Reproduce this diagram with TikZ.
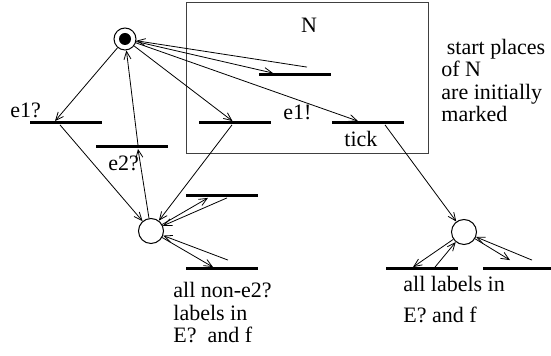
\documentclass[tikz,border=0pt]{standalone}
\usepackage{fontspec}
\setmainfont{Liberation Serif}
\usetikzlibrary{arrows.meta}

\tikzset{
  place/.style={draw,circle,line width=0.5pt,minimum size=12.5pt,inner sep=0pt},
  bar/.style={fill,minimum width=36pt,minimum height=1.5pt,inner sep=0pt},
  arc/.style={line width=0.4pt,-{Straight Barb[length=4pt,width=3.5pt]}},
}

\begin{document}
\begin{tikzpicture}[x=0.5pt,y=-0.5pt,inner sep=0pt,font=\fontsize{11pt}{11.25pt}\selectfont]
  \useasboundingbox (0,0) rectangle (551,356);
  \draw[line width=0.5pt,black!75] (186,3) rectangle (428,154); % ネット N の枠
  \node[anchor=base] (lN) at (309,33) {N};
  % プレース
  \node[place,minimum size=11pt] (pstart) at (125,39) {};
  \fill (pstart) circle (3pt); % 初期マーク
  \node[place] (pleft) at (151,231) {};
  \node[place] (pright) at (464,232) {};
  % トランジション
  \node[bar] (te1q) at (65.5,123) {};
  \node[bar] (te2q) at (131.5,147) {};
  \node[bar] (te1x) at (234.5,123) {};
  \node[bar] (tin) at (295,75) {};
  \node[bar] (ttick) at (367.5,123) {};
  \node[bar] (tl1) at (222,196) {};
  \node[bar] (tl2) at (222,269) {};
  \node[bar] (tr1) at (422,269) {};
  \node[bar,minimum width=34pt] (tr2) at (517,269) {};
  % アーク
  \draw[arc] (pstart) -- ([xshift=-5.25pt]te1q.north);
  \draw[arc] ([xshift=-2.75pt]te1q.south) -- (pleft);
  \draw[arc] (pleft) -- ([xshift=3.25pt]te2q.south);
  \draw[arc] ([xshift=3.25pt]te2q.north) -- (pstart);
  \draw[arc] (pstart) -- ([xshift=-1pt]te1x.north);
  \draw[arc] ([xshift=-1.25pt]te1x.south) -- (pleft);
  \draw[arc] (pstart) -- ([xshift=-11pt]tin.north);
  \draw[arc] ([xshift=6pt,yshift=3pt]tin.north) -- (pstart);
  \draw[arc] (pstart) -- ([xshift=-4.75pt]ttick.north);
  \draw[arc] ([xshift=8.75pt]ttick.south) -- (pright);
  \draw[arc] (pleft) -- ([xshift=-7pt]tl1.south);
  \draw[arc] ([xshift=2.5pt]tl1.south) -- (pleft);
  \draw[arc] (pleft) -- ([xshift=-4.5pt]tl2.north);
  \draw[arc] ([xshift=3pt,yshift=3.5pt]tl2.north) -- (pleft);
  \draw[arc] (pright) -- ([xshift=-4.5pt]tr1.north);
  \draw[arc] ([xshift=6.5pt]tr1.north) -- (pright);
  \draw[arc] (pright) -- ([xshift=-3.5pt,yshift=3.5pt]tr2.north);
  \draw[arc] ([xshift=7.5pt,yshift=3.5pt]tr2.north) -- (pright);
  % ラベル（複数行は最終行のベースラインで置く）
  \node[anchor=base west] (le1q) at (10,118) {e1?};
  \node[anchor=base west] (le2q) at (108,171) {e2?};
  \node[anchor=base west] (le1x) at (283,120) {e1!};
  \node[anchor=base west] (ltick) at (344,147) {tick};
  \node[anchor=base west,align=left] (lnote) at (441,122) {\ start places\\of N\\are initially\\marked};
  \node[anchor=base west,align=left] (lleft) at (173,343) {all non-e2?\\labels in\\E?\ \ and f};
  \node[anchor=base west,align=left] (lright) at (403,323) {all labels in\\[4.25pt]E? and f};
\end{tikzpicture}
\end{document}
